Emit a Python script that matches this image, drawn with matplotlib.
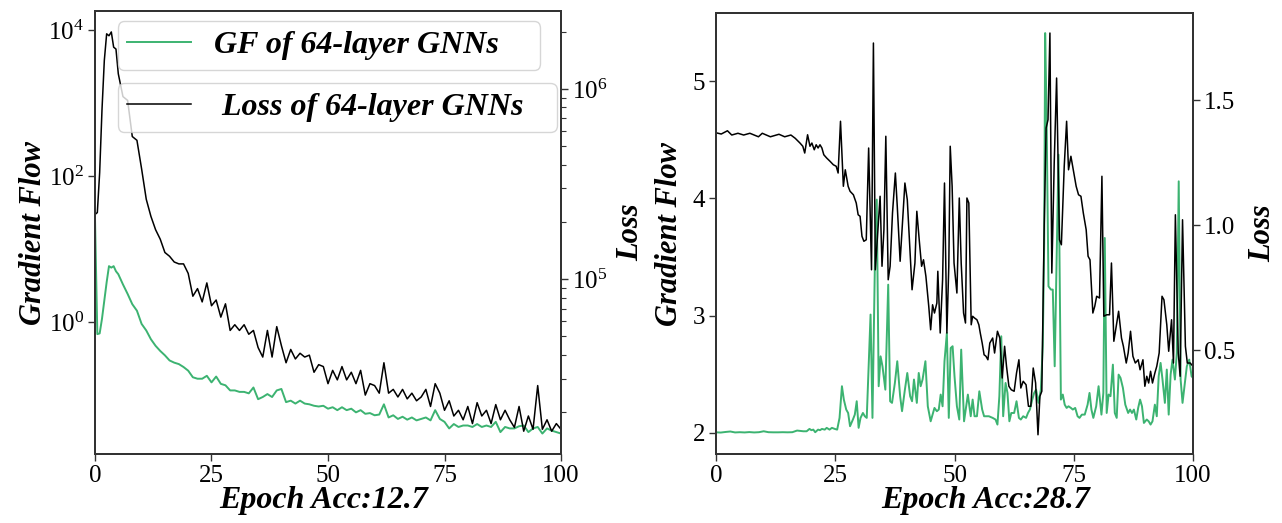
import matplotlib
matplotlib.use("Agg")
import matplotlib.pyplot as plt
import numpy as np
from matplotlib.lines import Line2D
from matplotlib.ticker import LogLocator, NullLocator, NullFormatter

plt.rcParams["font.family"] = ["Liberation Serif", "DejaVu Serif"]
plt.rcParams["mathtext.fontset"] = "stix"

GREEN = "#3cb371"

# ---- left panel (log scales, values given as log10 exponents)
epochs_left = [0, 0.5, 1, 1.5, 2, 2.5, 3, 3.5, 4, 4.5] + list(range(5, 101))
gf_left_exp = [
    1.43, -0.16, -0.15, 0.05, 0.30, 0.55, 0.77, 0.75, 0.77, 0.70,
    0.66, 0.52, 0.39, 0.25, 0.16, -0.02, -0.11, -0.23, -0.32, -0.39,
    -0.45, -0.52, -0.55, -0.57, -0.61, -0.66, -0.75, -0.77, -0.77, -0.73,
    -0.82, -0.74, -0.84, -0.86, -0.93, -0.93, -0.95, -0.95, -0.97, -0.89,
    -1.05, -1.02, -0.98, -1.02, -0.93, -0.91, -1.09, -1.07, -1.11, -1.07,
    -1.11, -1.12, -1.14, -1.15, -1.14, -1.18, -1.16, -1.20, -1.16, -1.20,
    -1.18, -1.23, -1.20, -1.25, -1.24, -1.27, -1.26, -1.12, -1.30, -1.27,
    -1.32, -1.29, -1.33, -1.30, -1.34, -1.32, -1.30, -1.34, -1.20, -1.32,
    -1.36, -1.45, -1.39, -1.43, -1.41, -1.41, -1.43, -1.39, -1.43, -1.41,
    -1.43, -1.36, -1.50, -1.43, -1.45, -1.45, -1.42, -1.41, -1.50, -1.45,
    -1.43, -1.52, -1.45, -1.48, -1.50, -1.52,
]
loss_left_exp = [
    5.34, 5.35, 5.56, 5.89, 6.15, 6.29, 6.28, 6.30, 6.22, 6.21,
    6.08, 5.96, 5.94, 5.75, 5.73, 5.58, 5.42, 5.33, 5.26, 5.21,
    5.14, 5.12, 5.09, 5.08, 5.08, 5.03, 4.91, 4.95, 4.88, 4.98,
    4.86, 4.89, 4.80, 4.87, 4.73, 4.76, 4.73, 4.76, 4.71, 4.73,
    4.64, 4.59, 4.73, 4.59, 4.75, 4.65, 4.56, 4.63, 4.58, 4.61,
    4.59, 4.60, 4.51, 4.55, 4.54, 4.45, 4.52, 4.47, 4.54, 4.47,
    4.51, 4.45, 4.52, 4.39, 4.45, 4.44, 4.40, 4.56, 4.40, 4.42,
    4.38, 4.42, 4.37, 4.40, 4.36, 4.38, 4.42, 4.33, 4.45, 4.40,
    4.31, 4.36, 4.28, 4.31, 4.26, 4.33, 4.24, 4.35, 4.28, 4.31,
    4.24, 4.34, 4.26, 4.31, 4.26, 4.22, 4.33, 4.20, 4.28, 4.21,
    4.44, 4.21, 4.26, 4.20, 4.24, 4.21,
]

# ---- right panel (linear scales)
gf_right_epochs = [
    0, 1, 2, 3, 4, 5, 6, 7, 8, 9, 10, 11, 12, 13, 14, 15, 16, 17,
    18.3, 19.0, 19.6, 20.0, 20.4, 20.8, 21.4, 21.8, 22.2, 22.8, 23.2, 23.8, 24.3, 24.9, 25.4,
    25.9, 26.4, 26.8, 27.3, 27.7, 28.1, 28.7, 29.1, 29.5, 29.9, 30.3, 30.8, 31.2, 31.6,
    32.0, 32.4, 32.8, 33.3, 33.7, 34.1, 34.5, 34.9, 35.5, 36.1, 36.5, 36.9, 37.5, 38.0,
    38.6, 39.0, 39.6, 40.1, 40.7, 41.1, 41.5, 42.1, 42.5, 42.9, 43.3, 43.9, 44.4, 45.0,
    45.4, 45.8, 46.3, 46.7, 47.1, 47.5, 47.9, 48.4, 48.8, 49.2, 49.6, 50.0, 50.5, 51.0,
    51.4, 52.0, 52.4, 52.8, 53.4, 53.8, 54.2, 54.7, 55.2, 55.8, 56.2, 56.7, 57.2,
    58.0, 58.6, 59.0, 59.4, 59.8, 60.2, 60.7, 61.1, 61.5, 61.9, 62.5, 63.0, 63.5, 63.9,
    64.4, 65.0, 65.4, 65.8, 66.3, 66.7, 67.1, 67.6, 68.1, 68.5, 68.8, 69.0, 69.3, 69.7,
    70.2, 70.6, 71.0, 71.4, 71.8, 72.3, 72.7, 73.1, 73.5, 73.9, 74.4, 74.8, 75.3, 75.8,
    76.2, 76.7, 77.3, 77.9, 78.3, 78.7, 79.1, 79.7, 80.2, 80.8, 81.2, 81.5, 81.9, 82.3,
    82.7, 83.2, 83.6, 84.0, 84.4, 84.8, 85.3, 85.8, 86.4, 86.8, 87.2, 87.6, 88.1, 88.5,
    88.9, 89.3, 89.7, 90.3, 90.7, 91.1, 91.5, 92.0, 92.4, 92.8, 93.2, 93.6, 94.1, 94.5,
    94.9, 95.3, 95.7, 96.2, 96.6, 97.0, 97.4, 97.8, 98.3, 98.7, 99.2, 99.7, 100.0,
]
gf_right = [
    2.005, 2.003, 2.008, 2.012, 2.004, 2.006, 2.004, 2.007, 2.004, 2.006, 2.014, 2.006,
    2.005, 2.005, 2.006, 2.005, 2.006, 2.020,
    2.014, 2.014, 2.034, 2.023, 2.028, 2.006, 2.028, 2.023, 2.034, 2.028, 2.043, 2.028, 2.043, 2.034, 2.028,
    2.128, 2.398, 2.284, 2.199, 2.170, 2.057, 2.114, 2.156, 2.270, 2.043, 2.128, 2.170, 2.142, 2.128,
    2.568, 3.009, 2.128, 3.420, 3.989, 2.398, 2.653, 2.568, 2.369, 3.264, 2.270, 2.256, 2.426, 2.611,
    2.313, 2.185, 2.369, 2.511, 2.313, 2.270, 2.455, 2.256, 2.511, 2.398, 2.455, 2.611, 2.227, 2.099,
    2.156, 2.213, 2.185, 2.199, 2.327, 2.227, 2.611, 2.852, 2.128, 2.724, 2.739, 2.483, 2.227, 2.114,
    2.710, 2.099, 2.213, 2.327, 2.142, 2.284, 2.142, 2.142, 2.355, 2.199, 2.142, 2.142, 2.142,
    2.128, 2.114, 2.071, 2.313, 2.824, 2.142, 2.426, 2.341, 2.099, 2.170, 2.170, 2.270, 2.128, 2.114,
    2.142, 2.128, 2.170, 2.199, 2.284, 2.341, 2.369, 2.256, 2.369, 2.739, 3.619, 5.409, 4.699, 3.250,
    3.222, 3.222, 2.568, 3.449, 4.372, 2.284, 2.327, 2.241, 2.213, 2.227, 2.213, 2.199, 2.213, 2.142,
    2.128, 2.156, 2.156, 2.241, 2.341, 2.199, 2.128, 2.227, 2.398, 2.156, 2.341, 3.662, 2.170, 2.327,
    2.313, 2.582, 2.170, 2.128, 2.497, 2.469, 2.384, 2.241, 2.170, 2.199, 2.170, 2.199, 2.114, 2.213,
    2.284, 2.227, 2.085, 2.114, 2.099, 2.071, 2.099, 2.241, 2.142, 2.483, 2.597, 2.455, 2.256, 2.540,
    2.156, 2.497, 2.625, 2.455, 2.682, 4.145, 2.455, 2.256, 2.426, 2.568, 2.625, 2.483, 2.469,
]
loss_right_epochs = [
    0, 1.1, 2.4, 3.3, 4.6, 5.8, 7.1, 8.9, 9.7, 11.4, 13.2, 14.4, 15.7, 16.6,
    17.6, 18.2, 18.6, 19.2, 19.7, 20.1, 20.6, 21.0, 21.4, 21.8, 22.2, 22.6, 23.2, 23.9,
    24.6, 25.2, 25.6, 26.1, 26.7, 27.1, 27.7, 28.1, 28.8, 29.4, 29.8, 30.2, 30.6, 31.0,
    31.5, 32.0, 32.6, 33.0, 33.4, 33.8, 34.4, 34.8, 35.2, 35.6, 36.1, 36.5, 37.0, 37.6,
    38.0, 38.6, 39.0, 39.6, 40.1, 40.7, 41.1, 41.7, 42.1, 42.6, 43.1, 43.5, 44.0, 44.6,
    45.0, 45.4, 45.8, 46.3, 46.5, 47.0, 47.5, 47.9, 48.4, 48.8, 49.1, 49.5, 49.9, 50.5,
    51.0, 51.4, 51.9, 52.3, 52.6, 53.0, 53.5, 53.8, 54.2, 54.7, 55.1, 55.4, 55.8, 56.2,
    56.6, 57.0, 57.4, 58.0, 58.4, 59.0, 59.5, 60.0, 60.5, 60.9, 61.4, 61.9, 62.5, 63.0,
    63.5, 63.9, 64.4, 65.0, 65.5, 66.0, 66.5, 67.0, 67.5, 67.9, 68.3, 68.8, 69.2, 69.6,
    70.0, 70.4, 70.9, 71.4, 72.0, 72.4, 73.0, 73.5, 73.9, 74.4, 74.9, 75.5, 76.0, 76.5,
    77.0, 77.6, 78.0, 78.4, 79.0, 79.4, 79.8, 80.4, 80.9, 81.3, 81.9, 82.5, 82.9, 83.4,
    84.0, 84.4, 85.0, 85.4, 86.0, 86.4, 86.9, 87.4, 87.9, 88.5, 88.9, 89.5, 89.9, 90.3,
    90.7, 91.1, 91.5, 92.0, 92.4, 92.9, 93.5, 93.9, 94.5, 94.9, 95.5, 95.9, 96.3, 96.9,
    97.3, 97.8, 98.4, 98.8, 99.4, 100.0,
]
loss_right = [
    1.369, 1.364, 1.377, 1.360, 1.367, 1.360, 1.367, 1.353, 1.367, 1.353, 1.363, 1.353, 1.360, 1.347,
    1.328, 1.315, 1.288, 1.361, 1.315, 1.328, 1.301, 1.321, 1.308, 1.321, 1.308, 1.281, 1.268, 1.255,
    1.241, 1.235, 1.208, 1.415, 1.155, 1.221, 1.155, 1.135, 1.121, 1.088, 1.041, 1.035, 0.955, 0.935,
    0.941, 1.308, 0.821, 1.728, 0.821, 0.941, 1.115, 0.835, 0.981, 1.355, 0.781, 0.835, 1.048, 1.208,
    1.075, 0.855, 0.981, 1.168, 1.101, 0.888, 0.741, 0.848, 1.055, 0.941, 0.835, 0.861, 0.795, 0.675,
    0.581, 0.681, 0.648, 0.688, 0.815, 0.568, 0.781, 1.168, 0.568, 0.835, 1.315, 1.155, 0.848, 0.728,
    1.108, 0.848, 0.648, 0.608, 1.108, 1.088, 0.601, 0.635, 0.628, 0.621, 0.601, 0.568, 0.528, 0.481,
    0.475, 0.461, 0.528, 0.548, 0.488, 0.575, 0.548, 0.388, 0.515, 0.435, 0.355, 0.341, 0.335, 0.408,
    0.461, 0.348, 0.375, 0.361, 0.275, 0.275, 0.428, 0.368, 0.161, 0.315, 0.335, 0.995, 1.388, 1.421,
    1.768, 0.808, 1.248, 1.588, 0.941, 0.921, 1.235, 1.415, 1.221, 1.275, 1.221, 1.155, 1.121, 1.115,
    1.048, 0.981, 0.875, 0.861, 0.648, 0.675, 0.715, 0.708, 1.195, 0.635, 0.641, 0.641, 0.848, 0.535,
    0.608, 0.655, 0.548, 0.515, 0.448, 0.488, 0.575, 0.475, 0.448, 0.461, 0.421, 0.461, 0.355, 0.395,
    0.368, 0.415, 0.368, 0.408, 0.435, 0.488, 0.715, 0.701, 0.601, 0.495, 0.621, 0.448, 1.041, 0.488,
    0.395, 1.021, 0.515, 0.448, 0.448, 0.435,
]

XLABEL_FONT = dict(fontsize=23, fontweight="bold", fontstyle="italic")
YLABEL_FONT = dict(fontsize=22, fontweight="bold", fontstyle="italic")


def style_spines(*axes):
    for a in axes:
        for sp in a.spines.values():
            sp.set_color("#333333")
            sp.set_linewidth(1.4)
        a.tick_params(which="major", labelsize=18, color="#333333", width=1.0, length=5, pad=3)
        a.tick_params(which="minor", color="#333333", width=0.8, length=3.5)


fig = plt.figure(figsize=(12.82, 5.23), dpi=100)

# left panel
ax1 = fig.add_axes([0.0741, 0.1319, 0.3635, 0.8470])
ax1b = ax1.twinx()
ax1.plot(epochs_left, 10 ** np.array(gf_left_exp), color=GREEN, lw=1.4)
ax1b.plot(epochs_left, 10 ** np.array(loss_left_exp), color="black", lw=1.1)
ax1.set_yscale("log")
ax1b.set_yscale("log")
ax1.set_xlim(0, 100)
ax1.set_ylim(10 ** -1.80, 10 ** 4.26)
ax1b.set_ylim(10 ** 4.08, 10 ** 6.41)
ax1.set_xticks([0, 25, 50, 75, 100])
ax1.set_yticks([1, 1e2, 1e4])
ax1.yaxis.set_minor_locator(NullLocator())
ax1b.yaxis.set_major_locator(LogLocator(base=10))
ax1b.yaxis.set_minor_locator(LogLocator(base=10, subs=np.arange(2, 10)))
ax1b.yaxis.set_minor_formatter(NullFormatter())
ax1.set_xlabel("Epoch Acc:12.7", **XLABEL_FONT)
ax1.set_ylabel("Gradient Flow", **YLABEL_FONT)
ax1b.set_ylabel("Loss", **YLABEL_FONT)
ax1.xaxis.set_label_coords(0.49, -0.072)
ax1.yaxis.set_label_coords(-0.10, 0.5)
ax1b.yaxis.set_label_coords(1.118, 0.5)
style_spines(ax1, ax1b)

leg_prop = dict(size=23, weight="bold", style="italic")
leg_kw = dict(loc="upper left", prop=leg_prop, handlelength=2.0, handletextpad=0.7,
              borderpad=0.3, borderaxespad=0.0)
leg1 = ax1b.legend([Line2D([], [], color=GREEN, lw=1.4)], ["GF of 64-layer GNNs    "],
                   bbox_to_anchor=(0.049, 0.977), **leg_kw)
ax1b.add_artist(leg1)
ax1b.legend([Line2D([], [], color="black", lw=1.1)], [" Loss of 64-layer GNNs   "],
            bbox_to_anchor=(0.049, 0.837), **leg_kw)

# right panel
ax2 = fig.add_axes([0.5585, 0.1319, 0.3721, 0.8432])
ax2b = ax2.twinx()
ax2.plot(gf_right_epochs, gf_right, color=GREEN, lw=1.4)
ax2b.plot(loss_right_epochs, loss_right, color="black", lw=1.1)
ax2.set_xlim(0, 100)
ax2.set_ylim(1.82, 5.58)
ax2b.set_ylim(0.084, 1.848)
ax2.set_xticks([0, 25, 50, 75, 100])
ax2.set_yticks([2, 3, 4, 5])
ax2b.set_yticks([0.5, 1.0, 1.5])
ax2.set_xlabel("Epoch Acc:28.7", **XLABEL_FONT)
ax2.set_ylabel("Gradient Flow", **YLABEL_FONT)
ax2b.set_ylabel("Loss", **YLABEL_FONT)
ax2.xaxis.set_label_coords(0.566, -0.072)
ax2.yaxis.set_label_coords(-0.067, 0.5)
ax2b.yaxis.set_label_coords(1.115, 0.5)
style_spines(ax2, ax2b)

fig.savefig("out.png", dpi=100)
